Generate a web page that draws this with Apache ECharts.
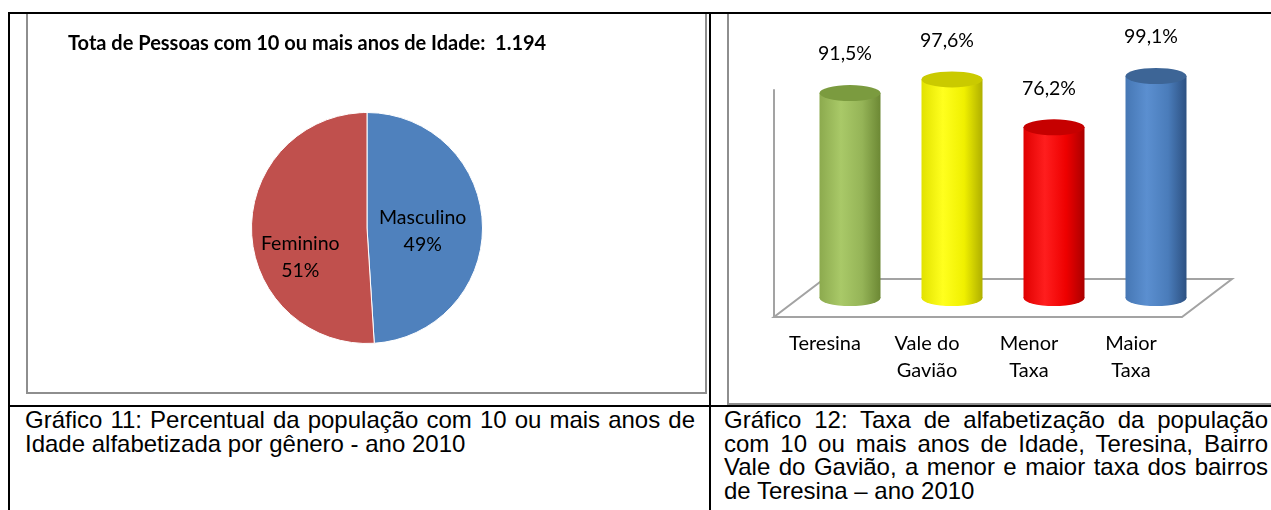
<!DOCTYPE html>
<html><head><meta charset="utf-8">
<script src="https://cdn.jsdelivr.net/npm/echarts@6/dist/echarts.min.js"></script>
<style>
html,body{margin:0;padding:0;width:1271px;height:510px;overflow:hidden;background:#fff;}
.ln{position:absolute;background:#000;}
.frame{position:absolute;border:2px solid #8e8e8e;box-sizing:border-box;}
.cap{position:absolute;font-family:"Liberation Sans",Arial,sans-serif;font-size:24px;line-height:23.7px;text-align:justify;color:#000;}
#chart{position:absolute;left:0;top:0;width:1271px;height:510px;}
</style></head><body>
<div class="frame" style="left:26px;top:12px;width:681px;height:382px;"></div>
<div class="frame" style="left:727px;top:12px;width:560px;height:393px;"></div>
<div class="ln" style="left:8px;top:12px;width:1263px;height:2px;"></div>
<div class="ln" style="left:8px;top:12px;width:2px;height:498px;"></div>
<div class="ln" style="left:709px;top:12px;width:2px;height:498px;"></div>
<div class="ln" style="left:8px;top:405px;width:1263px;height:2px;"></div>
<div class="cap" style="left:25px;top:408px;width:670px;">Gráfico 11: Percentual da população com 10 ou mais anos de Idade alfabetizada por gênero - ano 2010</div>
<div class="cap" style="left:724px;top:408px;width:544px;">Gráfico 12: Taxa de alfabetização da população com 10 ou mais anos de Idade, Teresina, Bairro Vale do Gavião, a menor e maior taxa dos bairros de Teresina – ano 2010</div>
<div id="chart"></div>
<script>
// ---- data ----
const pieTitle = 'Tota de Pessoas com 10 ou mais anos de Idade:  1.194';
const pieCategories = ['Masculino', 'Feminino'];
const pieValues = [49, 51];
const barCategories = ['Teresina', 'Vale do\nGavião', 'Menor\nTaxa', 'Maior\nTaxa'];
const barValues = [91.5, 97.6, 76.2, 99.1];

// ---- styles ----
const pieColors = ['#4F81BD', '#C0504D'];
const pieLabelShift = [[-5, 5], [-6, 27]];
const barGradients = [
  ['#8CAA4E', '#A9C968', '#95B457', '#6C8834'],
  ['#E2E200', '#FFFF1E', '#F0F000', '#AFAF00'],
  ['#E00000', '#FF1E1E', '#EE0000', '#AA0000'],
  ['#4677B4', '#5B8FD0', '#4A7CBA', '#2D5182']
];
const topColors = ['#7B9B3F', '#CACA00', '#C60000', '#3D6596'];
const FONT = 'Lato';
const front = {left: 774, top: 90, width: 408, height: 227};
const depth = [50, -38];
const back = {left: front.left + depth[0] / 2, top: 74, width: 408, height: front.top + front.height + depth[1] / 2 - 74};

function grad(c) {
  return new echarts.graphic.LinearGradient(0, 0, 1, 0, [
    {offset: 0, color: c[0]}, {offset: 0.35, color: c[1]}, {offset: 0.7, color: c[2]}, {offset: 1, color: c[3]}
  ]);
}

const chart = echarts.init(document.getElementById('chart'), null, {renderer: 'canvas'});
const fx0 = front.left, fx1 = front.left + front.width, fy = front.top + front.height;
const option = {
  backgroundColor: 'transparent',
  animation: false,
  title: {
    text: pieTitle, left: 68, top: 34, padding: 0,
    textStyle: {fontFamily: FONT, fontWeight: 'bold', fontSize: 20, color: '#000'}
  },
  graphic: [{
    type: 'polygon', z: 0,
    shape: {points: [[fx0, fy], [fx1, fy], [fx1 + depth[0], fy + depth[1]], [fx0 + depth[0], fy + depth[1]]]},
    style: {fill: 'none', stroke: '#a3a3a3', lineWidth: 2}
  }],
  grid: [
    {left: front.left, top: front.top, width: front.width, height: front.height},
    {left: back.left, top: back.top, width: back.width, height: back.height}
  ],
  xAxis: [
    {type: 'category', gridIndex: 0, data: barCategories,
      axisLine: {show: false}, axisTick: {show: false},
      axisLabel: {fontFamily: FONT, fontSize: 20, color: '#000', lineHeight: 27, margin: 13, interval: 0}},
    {type: 'category', gridIndex: 1, data: barCategories, show: false}
  ],
  yAxis: [
    {type: 'value', gridIndex: 0, min: 0, max: 100,
      axisLine: {show: true, lineStyle: {color: '#a3a3a3', width: 2}},
      axisTick: {show: false}, axisLabel: {show: false}, splitLine: {show: false}},
    {type: 'value', gridIndex: 1, min: 0, max: 100, show: false, splitLine: {show: false}}
  ],
  series: [
    {
      type: 'pie', center: [367, 228], radius: 115.5, startAngle: 90, clockwise: true,
      itemStyle: {borderColor: '#fff', borderWidth: 1},
      label: {position: 'inside', formatter: '{b}\n{d}%', fontFamily: FONT, fontSize: 19.5, lineHeight: 27, color: '#000'},
      labelLine: {show: false},
      labelLayout: p => ({dx: pieLabelShift[p.dataIndex][0], dy: pieLabelShift[p.dataIndex][1]}),
      data: pieCategories.map((n, i) => ({name: n, value: pieValues[i], itemStyle: {color: pieColors[i]}}))
    },
    {
      type: 'pictorialBar', xAxisIndex: 1, yAxisIndex: 1, symbol: 'circle', symbolSize: [61, 16],
      symbolOffset: [0, '50%'], z: 1,
      data: barValues.map((v, i) => ({value: v, itemStyle: {color: grad(barGradients[i])}}))
    },
    {
      type: 'bar', xAxisIndex: 1, yAxisIndex: 1, barWidth: 61, z: 2,
      label: {show: true, position: 'top', distance: 29, offset: [-5, 0], fontFamily: FONT, fontSize: 19.5, color: '#000',
        formatter: p => p.value.toFixed(1).replace('.', ',') + '%'},
      data: barValues.map((v, i) => ({value: v, itemStyle: {color: grad(barGradients[i])}}))
    },
    {
      type: 'pictorialBar', xAxisIndex: 1, yAxisIndex: 1, symbol: 'circle', symbolSize: [61, 16],
      symbolPosition: 'end', symbolOffset: [0, '-50%'], z: 3,
      data: barValues.map((v, i) => ({value: v, itemStyle: {color: topColors[i]}}))
    }
  ]
};
chart.setOption(option);
</script>
</body></html>
